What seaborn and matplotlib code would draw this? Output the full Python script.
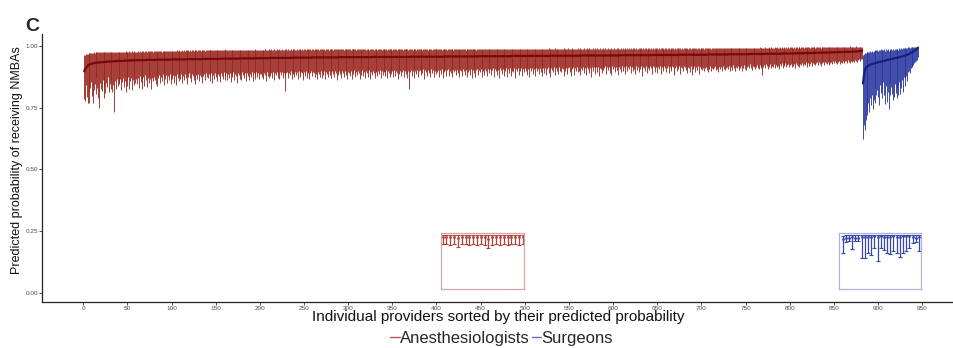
import numpy as np
import pandas as pd
import matplotlib
matplotlib.use("Agg")
import matplotlib.pyplot as plt
import seaborn as sns
from matplotlib.lines import Line2D

# ---------------- data (probabilities in thousandths) ----------------
ANES_EST = [
898,905,911,916,920,923,925,927,928,929,930,931,931,932,932,933,933,934,934,934,
935,935,935,936,936,936,937,937,937,937,938,938,938,938,938,939,939,939,939,939,
940,940,940,940,940,940,941,941,941,941,941,941,942,942,942,942,942,942,942,942,
943,943,943,943,943,943,943,943,943,943,944,944,944,944,944,944,944,944,944,944,
944,944,945,945,945,945,945,945,945,945,945,945,945,945,945,945,945,945,945,945,
946,946,946,946,946,946,946,946,946,946,946,946,946,946,946,946,947,947,947,947,
947,947,947,947,947,947,947,947,947,947,947,947,947,947,948,948,948,948,948,948,
948,948,948,948,948,948,948,948,948,948,948,948,948,948,949,949,949,949,949,949,
949,949,949,949,949,949,949,949,949,949,949,949,949,949,949,949,950,950,950,950,
950,950,950,950,950,950,950,950,950,950,950,950,950,950,951,951,951,951,951,951,
951,951,951,951,951,951,951,951,951,951,951,951,952,952,952,952,952,952,952,952,
952,952,952,952,952,952,952,952,952,952,952,952,952,952,952,952,953,953,953,953,
953,953,953,953,953,953,953,953,953,953,953,953,953,953,953,953,953,953,954,954,
954,954,954,954,954,954,954,954,954,954,954,954,954,954,954,954,954,954,954,954,
954,954,954,954,954,954,954,954,955,955,955,955,955,955,955,955,955,955,955,955,
955,955,955,955,955,955,955,955,955,955,955,955,955,955,955,955,955,955,955,955,
955,955,955,955,955,955,956,956,956,956,956,956,956,956,956,956,956,956,956,956,
956,956,956,956,956,956,956,956,956,956,956,956,956,956,956,956,956,956,956,956,
956,956,956,956,956,956,956,956,956,956,957,957,957,957,957,957,957,957,957,957,
957,957,957,957,957,957,957,957,957,957,957,957,957,957,957,957,957,957,957,957,
957,957,957,957,957,957,957,957,958,958,958,958,958,958,958,958,958,958,958,958,
958,958,958,958,958,958,958,958,958,958,958,958,958,958,958,958,958,958,958,958,
958,958,958,958,958,958,959,959,959,959,959,959,959,959,959,959,959,959,959,959,
959,959,959,959,959,959,959,959,959,959,959,959,959,959,959,959,959,959,959,959,
959,959,959,959,960,960,960,960,960,960,960,960,960,960,960,960,960,960,960,960,
960,960,960,960,960,960,960,960,960,960,960,960,960,960,960,960,960,960,960,960,
960,960,960,960,960,960,960,960,961,961,961,961,961,961,961,961,961,961,961,961,
961,961,961,961,961,961,961,961,961,961,961,961,961,961,961,961,961,961,961,961,
961,961,961,961,962,962,962,962,962,962,962,962,962,962,962,962,962,962,962,962,
962,962,962,962,962,962,962,962,962,962,962,962,962,962,962,962,962,962,962,962,
962,962,962,962,962,962,963,963,963,963,963,963,963,963,963,963,963,963,963,963,
963,963,963,963,963,963,963,963,963,963,963,963,963,963,963,963,963,963,963,963,
963,963,963,963,964,964,964,964,964,964,964,964,964,964,964,964,964,964,964,964,
964,964,964,964,964,964,964,964,964,964,964,964,964,964,965,965,965,965,965,965,
965,965,965,965,965,965,965,965,965,965,965,965,965,965,965,965,965,965,965,965,
965,965,965,965,965,965,966,966,966,966,966,966,966,966,966,966,966,966,966,966,
966,966,966,966,966,966,966,966,966,966,967,967,967,967,967,967,967,967,967,967,
967,967,967,967,967,967,967,967,967,967,967,967,967,967,968,968,968,968,968,968,
968,968,968,968,968,968,968,968,968,968,968,968,969,969,969,969,969,969,969,969,
969,969,969,969,969,969,969,969,969,969,970,970,970,970,970,970,970,970,970,970,
970,970,970,970,970,970,971,971,971,971,971,971,971,971,971,971,972,972,972,972,
972,972,972,972,972,972,972,972,973,973,973,973,973,973,973,973,974,974,974,974,
974,974,974,974,974,974,975,975,975,975,975,975,975,975,976,976,976,976,976,976,
976,976,976,976,977,977,977,977,977,977,978,978,978,978,978,978,979,979,979,979,
980,981]

ANES_LO = [
785,776,842,795,770,812,768,830,855,798,768,820,845,806,872,832,790,748,850,826,
818,862,789,840,808,852,836,874,815,846,828,860,812,844,733,858,824,866,838,850,
846,868,822,856,872,835,860,812,864,840,876,828,858,870,822,862,842,874,850,866,
845,870,832,878,856,826,866,874,838,882,862,836,870,850,880,866,828,872,858,876,
862,848,880,838,872,884,852,874,860,886,842,876,866,882,850,878,862,888,846,874,
868,884,852,878,842,886,870,858,882,866,888,850,880,862,886,870,848,884,874,890,
872,856,886,878,862,890,846,882,868,888,858,884,874,892,850,880,886,864,890,876,
870,888,858,884,890,852,882,866,892,876,886,860,888,878,854,890,880,868,894,862,
880,890,862,888,872,892,856,886,876,894,864,888,880,850,892,884,868,890,862,894,
884,870,892,860,890,878,896,864,888,874,894,858,890,882,868,896,876,892,866,888,
888,874,896,866,892,882,860,894,880,870,898,878,890,872,894,864,892,884,896,870,
890,868,894,882,896,872,892,878,817,890,896,870,892,884,898,866,894,886,874,896,
884,894,868,898,886,874,896,890,862,894,880,898,872,892,896,868,890,898,878,894,
892,874,898,886,866,896,888,876,900,870,894,884,898,866,896,888,874,900,882,894,
872,898,888,876,900,890,864,896,882,898,886,870,900,892,876,898,884,902,868,896,
892,878,900,868,898,886,902,874,896,882,900,890,866,898,884,902,878,896,872,900,
890,876,898,902,868,896,884,900,890,872,902,894,878,898,888,904,870,900,882,896,
898,880,904,870,900,890,876,902,886,898,874,904,880,900,892,866,902,886,900,878,
894,902,874,898,886,904,872,900,824,896,902,878,898,906,872,900,888,904,876,898,
902,882,900,890,906,868,902,894,878,904,890,900,874,906,892,902,876,900,886,904,
896,904,876,902,888,906,870,900,894,904,880,902,906,878,900,892,908,874,902,896,
904,882,902,892,906,874,904,898,880,908,900,884,904,876,906,896,902,882,908,870,
904,890,906,876,902,908,882,904,896,906,874,910,900,884,906,898,878,908,890,904,
906,884,904,910,874,906,898,908,882,904,870,910,902,886,908,880,906,898,910,876,
906,892,910,878,900,908,896,912,872,906,900,910,884,908,898,912,878,908,894,910,
900,912,884,908,876,910,898,912,888,908,910,880,912,900,908,886,912,896,910,878,
910,892,912,884,908,914,890,910,876,912,904,894,914,882,910,900,912,888,914,898,
894,912,906,880,914,898,912,888,910,914,896,878,912,906,916,884,912,900,914,894,
900,914,882,912,904,916,890,912,884,914,906,916,892,912,874,914,900,916,888,912,
914,896,916,880,912,908,890,916,902,910,918,886,914,904,916,892,914,882,918,906,
914,896,916,904,918,884,914,908,894,918,900,914,910,888,918,898,916,906,918,890,
916,900,918,908,886,918,904,916,894,918,908,918,880,916,910,898,918,892,916,910,
902,918,910,888,918,916,896,914,918,892,916,908,918,886,916,912,900,918,912,894,
912,918,890,916,906,900,918,916,884,912,918,898,916,906,918,888,916,912,898,918,
916,902,918,890,916,910,896,918,882,916,908,918,894,916,902,918,888,916,906,918,
904,912,898,910,916,902,896,914,908,918,900,912,906,910,920,902,914,908,896,916,
906,914,900,918,908,922,902,912,916,906,920,898,914,918,904,922,912,900,916,910,
918,904,914,910,920,898,912,922,908,924,902,914,920,910,926,912,904,918,914,924,
906,916,924,912,908,922,918,910,882,916,924,912,926,918,906,922,914,928,910,920,
916,926,910,922,928,914,920,908,926,918,930,912,924,920,930,914,922,928,916,924,
926,914,930,920,926,912,932,924,918,930,916,928,922,932,918,928,924,934,916,928,
932,920,928,934,918,930,926,936,922,930,936,924,934,928,920,936,930,934,924,936,
932,926,936,922,938,930,934,926,938,930,940,932,926,938,934,940,928,936,932,940,
934,930,938,940,932,942,936,932,940,944,934,940,936,944,940,936,942,946,938,944,
946,948]

ANES_HI = [
962,964,966,968,969,970,971,972,972,973,973,974,973,974,975,974,975,974,975,975,
975,976,974,976,975,977,976,975,977,976,975,977,976,978,976,977,975,977,978,976,
977,976,978,977,976,978,977,979,976,978,977,979,978,976,979,977,978,979,977,978,
978,979,977,979,978,980,978,979,977,980,979,978,980,979,978,980,979,981,978,980,
979,980,978,981,980,979,981,980,978,981,980,982,979,981,980,982,980,979,981,982,
981,982,980,982,981,983,982,981,983,982,980,983,982,984,981,983,982,984,983,981,
983,982,984,983,981,984,983,985,982,984,983,985,982,984,983,985,984,982,985,984,
984,983,985,984,986,983,985,984,986,984,983,986,985,984,986,985,983,986,985,987,
984,985,983,985,984,986,984,985,983,986,985,984,986,985,983,986,985,984,986,985,
984,985,986,984,985,983,986,985,984,986,985,984,986,985,987,984,986,985,984,986,
985,986,984,986,985,987,985,986,984,987,986,985,987,986,984,987,986,985,987,986,
985,987,986,984,987,986,985,987,986,988,985,987,986,985,987,986,988,985,987,986,
986,987,985,987,986,988,986,987,985,988,987,986,988,987,985,988,987,986,988,987,
986,988,987,985,988,987,986,988,987,989,986,988,987,986,988,987,989,986,988,987,
987,988,986,988,987,989,987,988,986,989,988,987,989,988,986,989,988,987,989,988,
987,988,986,989,987,988,987,989,986,988,987,989,988,986,988,987,989,987,988,986,
988,987,989,986,988,987,989,988,986,989,987,988,986,989,988,987,989,986,988,987,
987,989,988,986,988,987,989,987,988,986,989,988,987,989,986,988,987,989,988,987,
988,986,989,987,988,987,989,986,988,987,989,988,986,989,987,988,986,989,987,988,
987,989,988,986,989,987,988,987,989,986,988,987,989,988,986,989,987,988,987,989,
988,987,989,987,988,986,989,988,987,989,988,986,989,987,988,989,987,988,986,989,
987,989,988,987,989,986,988,987,989,988,987,989,986,988,987,989,988,987,989,988,
988,987,989,988,986,989,987,988,989,987,988,986,989,988,987,989,988,987,990,988,
987,989,988,990,987,988,989,987,990,988,987,989,988,990,987,989,988,987,990,988,
989,988,990,987,989,988,990,989,987,990,988,989,990,988,989,987,990,989,988,990,
988,990,989,987,990,988,989,990,988,989,987,990,989,988,990,989,987,990,988,989,
990,988,989,990,988,989,991,988,990,989,988,990,989,991,988,990,989,988,990,989,
989,990,988,991,989,990,988,989,991,990,988,990,989,991,988,990,989,990,988,991,
990,989,991,988,990,989,991,990,988,991,989,990,991,989,990,988,991,990,989,991,
989,991,990,988,991,990,989,991,990,988,991,989,990,991,989,990,988,991,990,989,
991,989,990,991,989,992,990,989,991,990,992,989,991,990,989,991,990,992,989,991,
990,991,989,992,990,991,990,989,992,991,990,992,989,991,990,992,991,989,992,990,
991,990,992,989,991,990,992,991,990,992,989,991,990,992,991,990,992,989,991,992,
990,992,991,989,992,990,991,992,990,991,989,992,991,990,992,991,989,992,990,991,
992,990,991,992,990,992,991,989,992,991,990,992,991,993,990,992,991,990,992,991,
991,992,990,993,991,992,990,992,991,993,990,992,991,993,992,990,993,991,992,991,
992,991,993,992,990,993,992,991,993,992,994,991,993,992,991,993,992,994,991,993,
993,992,994,991,993,992,994,993,991,994,992,993,994,992,993,991,994,993,992,994,
993,994,992,994,993,995,992,994,993,994,992,995,993,994,992,995,994,993,995,994,
994,993,995,994,992,995,994,993,995,994,996,993,995,994,993,995,994,996,993,995,
995,994,996,994,995,993,996,995,994,996,995,994,996,995,997,994,996,995,994,996,
995,996,994,996,995,997,995,996,994,997,996,995,997,996,994,997,996,995,997,996,
996,997,995,997,996,998,996,997,995,998,997,996,998,997,995,998,997,996,998,997,
997,996,998,997,996,998,997,999,996,998,997,996,998,997,999,996,998,997,998,997,
998,997]

SURG_EST = [848,880,900,910,915,918,920,922,924,926,927,928,929,930,931,932,933,934,935,936,
            937,937,938,939,940,941,942,943,944,945,946,946,947,948,949,950,951,951,952,953,
            954,955,956,957,958,959,960,961,962,963,965,966,968,970,972,974,976,978,980,983,
            986,989,993]
SURG_LO = [625,680,659,700,740,720,770,733,790,760,800,745,780,830,770,800,820,794,760,841,
           810,828,790,856,800,767,840,774,815,746,850,800,835,807,780,794,845,810,835,790,
           800,855,807,830,862,812,875,840,869,880,860,895,900,889,910,920,915,925,930,936,
           940,943,955]
SURG_HI = [962,968,972,970,976,974,978,975,980,977,982,978,980,984,981,985,983,980,986,984,
           987,983,986,985,988,982,987,983,988,982,988,986,990,985,989,986,990,987,990,988,
           986,991,987,992,990,993,991,993,991,994,993,995,995,994,996,996,997,997,997,998,
           998,998,999]

# zoomed-in insets (relative scale inside each box)
INSET_ANES_EST = [0.93,0.92,0.93,0.93,0.91,0.93,0.92,0.93,0.92,0.93,0.92,0.93,0.90,0.93,0.92,0.93,0.92,0.92,0.93,0.92,0.93,0.92]
INSET_ANES_LO = [0.80,0.81,0.79,0.80,0.755,0.80,0.81,0.79,0.80,0.78,0.80,0.79,0.727,0.79,0.81,0.79,0.80,0.78,0.80,0.81,0.79,0.80]
INSET_ANES_HI = [0.963,0.965,0.962,0.964,0.963,0.965,0.962,0.964,0.963,0.965,0.962,0.964,0.963,0.965,0.962,0.964,0.963,0.965,0.962,0.964,0.963,0.965]
INSET_SURG_EST = [0.90,0.91,0.91,0.92,0.91,0.91,0.93,0.93,0.93,0.93,0.94,0.93,0.94,0.93,0.93,0.93,0.94,0.93,0.93,0.94,0.94,0.94,0.92,0.91,0.93]
INSET_SURG_LO = [0.65,0.845,0.85,0.71,0.86,0.86,0.55,0.55,0.64,0.61,0.73,0.505,0.73,0.70,0.64,0.62,0.67,0.64,0.58,0.64,0.67,0.73,0.815,0.845,0.685]
INSET_SURG_HI = [0.955,0.962,0.96,0.965,0.958,0.962,0.968,0.968,0.966,0.968,0.966,0.968,0.966,0.968,0.966,0.968,0.966,0.968,0.966,0.968,0.966,0.968,0.962,0.958,0.964]

GROUPS = ["Anesthesiologists", "Surgeons"]
X_TICKS = [0, 50, 100, 150, 200, 250, 300, 350, 400, 450, 500, 550, 600, 650, 700, 750, 800, 850, 900, 950]
Y_TICKS = [0.00, 0.25, 0.50, 0.75, 1.00]

# ---------------- tables ----------------
def make_table(est, lo, hi, start, group):
    n = min(len(est), len(lo), len(hi))
    return pd.DataFrame({
        "rank": np.arange(start, start + n),
        "est": np.array(est[:n]) / 1000.0,
        "lo": np.array(lo[:n]) / 1000.0,
        "hi": np.array(hi[:n]) / 1000.0,
        "group": group,
    })

anes = make_table(ANES_EST, ANES_LO, ANES_HI, 1, GROUPS[0])
surg = make_table(SURG_EST, SURG_LO, SURG_HI, len(anes) + 1, GROUPS[1])

RED_BAR, RED_LINE = "#9a2520", "#7a0808"
BLUE_BAR, BLUE_LINE = "#2636a0", "#16207e"

sns.set_theme(style="ticks")
plt.rcParams["font.family"] = ["Liberation Sans", "DejaVu Sans"]

fig = plt.figure(figsize=(9.54, 3.48), dpi=100)
ax = fig.add_axes([0.0443, 0.1322, 0.9557, 0.7701])

for df, bc, lc in [(anes, RED_BAR, RED_LINE), (surg, BLUE_BAR, BLUE_LINE)]:
    ax.vlines(df["rank"], df["lo"], df["hi"], color=bc, lw=0.7, alpha=0.9, zorder=2)
    sns.lineplot(data=df, x="rank", y="est", color=lc, lw=1.6, ax=ax,
                 estimator=None, legend=False, zorder=3)

ax.set_xlim(-46.4, 986)
ax.set_ylim(-0.0377, 1.049)
ax.set_xticks(X_TICKS)
ax.set_xticklabels([str(t) for t in X_TICKS])
ax.set_yticks(Y_TICKS)
ax.set_yticklabels([f"{t:.2f}" for t in Y_TICKS])
ax.tick_params(axis="both", length=2.2, width=0.6, color="#333333",
               labelsize=4.6, labelcolor="#4d4d4d", pad=0.6)
sns.despine(ax=ax)
for s in ["left", "bottom"]:
    ax.spines[s].set_color("#222222")
    ax.spines[s].set_linewidth(0.9)

ax.set_xlabel("Individual providers sorted by their predicted probability",
              fontsize=11, color="#111111", labelpad=-0.3)
ax.set_ylabel("Predicted probability of receiving NMBAs", fontsize=9.0, color="#111111")
ax.yaxis.set_label_coords(-0.021, 0.53)

# insets
def draw_inset(bounds, est, lo, hi, frame, color, xlim):
    ins = ax.inset_axes(bounds, transform=ax.transData)
    est = np.array(est); lo = np.array(lo); hi = np.array(hi)
    xs = np.arange(1, len(est) + 1)
    ins.errorbar(xs, est, yerr=[est - lo, hi - est], fmt="o", ms=1.0,
                 color=color, ecolor=color, elinewidth=0.9, capsize=1.3, capthick=0.8)
    ins.set_xlim(*xlim)
    ins.set_ylim(0, 1)
    ins.set_xticks([]); ins.set_yticks([])
    ins.patch.set_alpha(0)
    for sp in ins.spines.values():
        sp.set_visible(True)
        sp.set_color(frame)
        sp.set_linewidth(0.9)

draw_inset([405, 0.015, 94, 0.227], INSET_ANES_EST, INSET_ANES_LO, INSET_ANES_HI,
           "#d4a6a6", "#b0423c", (0.55, 22.3))
draw_inset([855.6, 0.015, 92.9, 0.227], INSET_SURG_EST, INSET_SURG_LO, INSET_SURG_HI,
           "#aeb3dc", "#3a48aa", (-0.16, 25.6))

fig.text(25 / 954, 1 - 31 / 348, "C", fontsize=14, fontweight="bold", va="baseline")

handles = [Line2D([0], [0], color="#c0504a", lw=1.0), Line2D([0], [0], color="#6270c4", lw=1.0)]
fig.legend(handles, GROUPS, loc="center", bbox_to_anchor=(0.526, 0.0276), ncol=2,
           frameon=False, fontsize=12, handlelength=0.55, handletextpad=0.05,
           columnspacing=0.1, borderpad=0)

fig.savefig("out.png", dpi=100)
